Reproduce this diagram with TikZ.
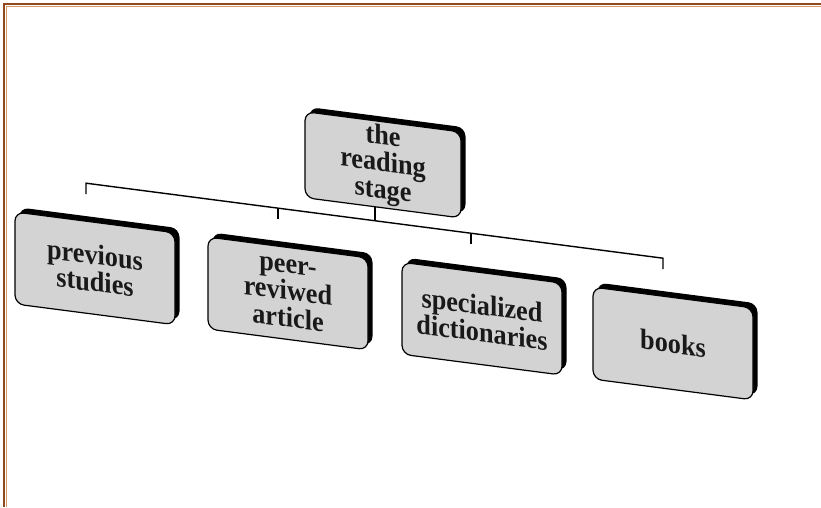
\documentclass[tikz,border=0pt]{standalone}
\usepackage{fontspec}
\setmainfont{Liberation Serif}[FakeStretch=0.92]
\usetikzlibrary{shadows}
\definecolor{borderdark}{HTML}{8E4A1E}
\definecolor{borderlight}{HTML}{D49A68}
\definecolor{facegray}{HTML}{D3D3D3}
\begin{document}
\begin{tikzpicture}[x=1pt,y=-1pt,
  box/.style={draw=black, line width=1.2pt, fill=facegray, rounded corners=9pt,
    align=center, transform shape, inner sep=0pt,
    font=\fontsize{28.5}{27}\selectfont\bfseries, text=black!90,
    general shadow={fill=black, shadow xshift=4.5pt, shadow yshift=4.5pt}},
  lowbox/.style={box, minimum width=160pt, minimum height=92pt},
  bus/.style={line width=1.4pt, black}]
\useasboundingbox (0,0) rectangle (821,507);
% page border
\draw[borderdark, line width=2pt] (3.5,507) -- (3.5,3.5) -- (821,3.5);
\draw[borderlight, line width=1pt] (6,507) -- (6,6) -- (821,6);
\begin{scope}[yslant=-0.13]
  \node[box, minimum width=156pt, minimum height=86pt] (top) at (383,115) {the\\reading\\stage};
  \node[lowbox] (prev) at (95,256) {previous\\studies};
  \node[lowbox] (peer) at (288,256) {peer-\\reviwed\\article};
  \node[lowbox] (spec) at (482,256) {specialized\\dictionaries};
  \node[lowbox] (book) at (673,256) {books};
  \coordinate (b1) at (86,172);
  \coordinate (b2) at (278,172);
  \coordinate (b3) at (471,172);
  \coordinate (b4) at (663,172);
  \coordinate (t1) at (86,183);
  \coordinate (t2) at (278,183);
  \coordinate (t3) at (471,183);
  \coordinate (t4) at (663,183);
  \coordinate (tb) at (375,172);
  \draw[bus] (t1) -- (b1) -- (b4) -- (t4);
  \draw[bus] (b2) -- (t2);
  \draw[bus] (b3) -- (t3);
  \draw[bus] (tb) -- (tb |- top.south);
\end{scope}
\end{tikzpicture}
\end{document}
